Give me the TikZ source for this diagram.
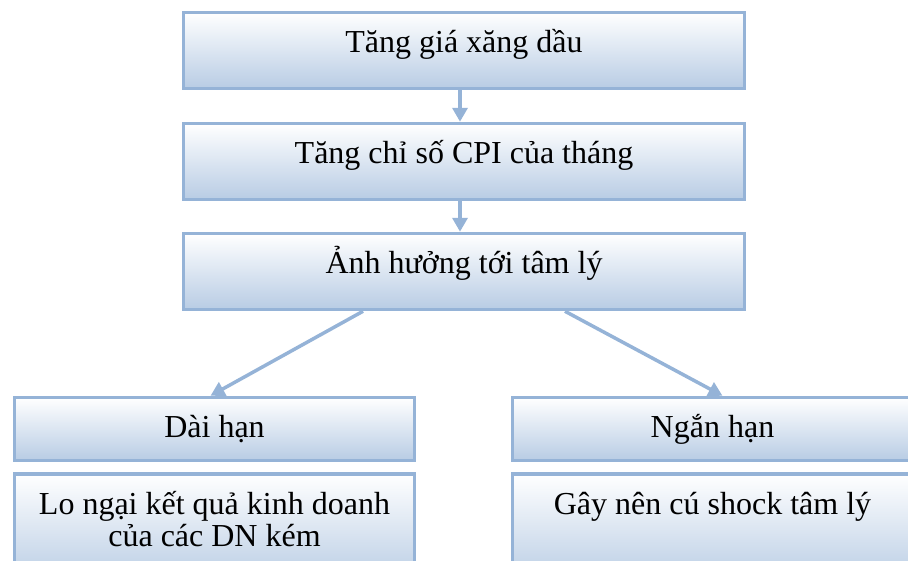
\documentclass[tikz,border=0pt]{standalone}
\usepackage{fontspec}
\setmainfont{Liberation Serif}
\usetikzlibrary{arrows.meta}
\definecolor{boxline}{RGB}{149,179,215}
\definecolor{boxfill}{RGB}{184,204,228}
\begin{document}
\begin{tikzpicture}[x=1pt,y=-1pt,
    blk/.style={draw=boxline,line width=3.5pt,top color=white,bottom color=boxfill,
      minimum width=561pt,minimum height=76pt,inner sep=0pt,text height=14pt,text depth=10pt,
      font=\fontsize{32}{32}\selectfont},
    sblk/.style={blk,minimum width=400pt,minimum height=63pt,text height=18pt,text depth=2pt},
    txt/.style={anchor=base,align=center,inner sep=0pt,font=\fontsize{32}{32}\selectfont},
    arr/.style={boxline,line width=3.5pt,-{Triangle[width=15pt,length=14pt]}}]
  \clip (0,0) rectangle (908,560);
  \node[blk] (tang) at (464,50.5) {Tăng giá xăng dầu};
  \node[blk] (cpi) at (464,161.5) {Tăng chỉ số CPI của tháng};
  \node[blk] (anh) at (464,271.5) {Ảnh hưởng tới tâm lý};
  \node[sblk] (dai) at (214.5,429) {Dài hạn};
  \node[sblk] (ngan) at (712.5,429) {Ngắn hạn};
  \node[sblk,minimum height=110pt] (lo) at (214.5,529) {};
  \node[sblk,minimum height=110pt] (gay) at (712.5,529) {};
  \node[txt] (lotxt) at (214.5,546) {Lo ngại kết quả kinh doanh\\của các DN kém};
  \node[txt] (gaytxt) at (712.5,514) {Gây nên cú shock tâm lý};
  % arrows
  \draw[arr] ([xshift=-4pt]tang.south) -- ([xshift=-4pt]cpi.north);
  \draw[arr] ([xshift=-4pt]cpi.south) -- ([xshift=-4pt]anh.north);
  \draw[arr] ([xshift=-101pt]anh.south) -- ([xshift=-4pt]dai.north);
  \draw[arr] ([xshift=101pt]anh.south) -- ([xshift=10pt]ngan.north);
\end{tikzpicture}
\end{document}
